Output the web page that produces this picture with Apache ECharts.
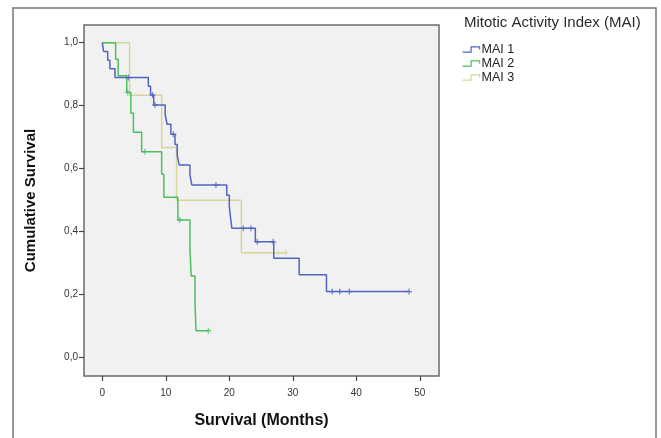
<!DOCTYPE html>
<html>
<head>
<meta charset="utf-8">
<script src="https://cdn.jsdelivr.net/npm/echarts@6/dist/echarts.min.js"></script>
<style>
  html, body { margin: 0; padding: 0; background: #fff; }
  #chart { width: 661px; height: 438px; }
</style>
</head>
<body>
<div id="chart"></div>
<script>
// Kaplan-Meier steps: [month, cumulative survival]
const mai1Steps = [
  [0, 1.0], [0.2, 0.972], [0.85, 0.944], [1.2, 0.917], [2.0, 0.889],
  [7.25, 0.862], [7.6, 0.834], [8.1, 0.802], [9.9, 0.772], [10.2, 0.741],
  [10.8, 0.709], [11.45, 0.677], [11.8, 0.644], [12.1, 0.612], [13.8, 0.58],
  [14.1, 0.548], [19.6, 0.516], [20.0, 0.48], [20.2, 0.444], [20.4, 0.411],
  [24.1, 0.368], [27.0, 0.316], [31.0, 0.263], [35.3, 0.21], [48.3, 0.21]
];
const mai1Censored = [
  [4.1, 0.889], [7.9, 0.834], [8.3, 0.802], [11.2, 0.709], [17.9, 0.548],
  [22.2, 0.411], [23.4, 0.411], [24.4, 0.368], [26.9, 0.368],
  [36.2, 0.21], [37.4, 0.21], [38.9, 0.21], [48.3, 0.21]
];

const mai2Steps = [
  [0, 1.0], [2.1, 0.947], [2.5, 0.895], [3.85, 0.842], [4.5, 0.776],
  [4.9, 0.716], [6.2, 0.654], [9.35, 0.582], [9.7, 0.509], [11.9, 0.437],
  [13.8, 0.347], [14.0, 0.259], [14.6, 0.173], [14.75, 0.086], [16.7, 0.086]
];
const mai2Censored = [[4.0, 0.842], [6.7, 0.654], [12.2, 0.437], [16.7, 0.086]];

const mai3Steps = [
  [0, 1.0], [4.3, 0.833], [9.35, 0.667], [11.7, 0.5], [21.9, 0.333], [28.9, 0.333]
];
const mai3Censored = [[27.7, 0.333], [28.9, 0.333]];

const groupNames = ['MAI 1', 'MAI 2', 'MAI 3'];
const groupColors = ['#4f65c2', '#4cbf5e', '#d8d49e'];
const xTicks = [0, 10, 20, 30, 40, 50];
const yTicks = [0, 0.2, 0.4, 0.6, 0.8, 1.0];

const stepIcon = 'path://M0,5 L8,5 L8,0 L16,0 L16,2.5';
const plusIcon = 'path://M4,0 L6,0 L6,4 L10,4 L10,6 L6,6 L6,10 L4,10 L4,6 L0,6 L0,4 L4,4 Z';

const allSteps = [mai1Steps, mai2Steps, mai3Steps];
const allCensored = [mai1Censored, mai2Censored, mai3Censored];

const series = [];
groupNames.forEach((name, i) => {
  series.push({
    name: name,
    type: 'line',
    step: 'end',
    data: allSteps[i],
    showSymbol: false,
    symbol: 'none',
    lineStyle: { color: groupColors[i], width: 1.5 },
    itemStyle: { color: groupColors[i] },
    animation: false,
    z: 3 - i
  });
  series.push({
    name: name + ' censored',
    type: 'scatter',
    data: allCensored[i],
    symbol: plusIcon,
    symbolSize: 6,
    itemStyle: { color: groupColors[i] },
    animation: false,
    z: 3 - i
  });
});

const chart = echarts.init(document.getElementById('chart'));

chart.setOption({
  backgroundColor: '#ffffff',
  animation: false,
  title: {
    text: 'Mitotic Activity Index (MAI)',
    left: 464,
    top: 15,
    padding: 0,
    textStyle: {
      fontFamily: 'Liberation Sans, Arial, sans-serif',
      fontSize: 15,
      fontWeight: 'normal',
      color: '#2b2b2b'
    }
  },
  legend: {
    orient: 'vertical',
    left: 462,
    top: 43,
    padding: 0,
    itemWidth: 17,
    itemHeight: 6,
    itemGap: 1,
    selectedMode: false,
    textStyle: {
      fontFamily: 'Liberation Sans, Arial, sans-serif',
      fontSize: 12.5,
      lineHeight: 12,
      color: '#222',
      padding: [0, 0, 0, -3]
    },
    data: groupNames.map((name, i) => ({
      name: name,
      icon: stepIcon,
      itemStyle: { color: 'transparent', borderColor: groupColors[i], borderWidth: 1.2 }
    }))
  },
  grid: {
    left: 84,
    top: 25,
    width: 355,
    height: 351,
    show: true,
    backgroundColor: '#f1f1f1',
    borderColor: '#6a6a6a',
    borderWidth: 1.5,
    containLabel: false
  },
  xAxis: {
    type: 'value',
    min: -2.88,
    max: 53.02,
    name: 'Survival (Months)',
    nameLocation: 'middle',
    nameGap: 37,
    nameTextStyle: {
      fontFamily: 'Liberation Sans, Arial, sans-serif',
      fontSize: 16,
      fontWeight: 'bold',
      color: '#111'
    },
    axisLine: { show: false, onZero: false },
    splitLine: { show: false },
    axisTick: {
      show: true,
      length: 5,
      customValues: xTicks,
      lineStyle: { color: '#444', width: 1.2 }
    },
    axisLabel: {
      customValues: xTicks,
      margin: 12,
      fontFamily: 'Liberation Sans, Arial, sans-serif',
      fontSize: 10,
      color: '#333'
    }
  },
  yAxis: {
    type: 'value',
    min: -0.058,
    max: 1.056,
    name: 'Cumulative Survival',
    nameLocation: 'middle',
    nameGap: 46,
    nameTextStyle: {
      fontFamily: 'Liberation Sans, Arial, sans-serif',
      fontSize: 15,
      fontWeight: 'bold',
      color: '#111'
    },
    axisLine: { show: false, onZero: false },
    splitLine: { show: false },
    axisTick: {
      show: true,
      length: 5,
      customValues: yTicks,
      lineStyle: { color: '#444', width: 1.2 }
    },
    axisLabel: {
      customValues: yTicks,
      margin: 6,
      fontFamily: 'Liberation Sans, Arial, sans-serif',
      fontSize: 10,
      color: '#333',
      formatter: (v) => v.toFixed(1).replace('.', ',')
    }
  },
  graphic: [
    {
      type: 'rect',
      silent: true,
      z: -10,
      shape: { x: 13, y: 8, width: 643, height: 440 },
      style: { fill: 'none', stroke: '#777', lineWidth: 1.5 }
    }
  ],
  series: series
});
</script>
</body>
</html>
